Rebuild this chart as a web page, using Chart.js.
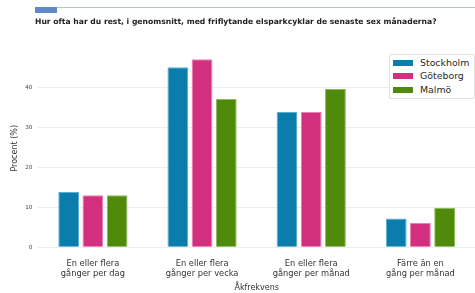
<!DOCTYPE html>
<html>
<head>
<meta charset="utf-8">
<script src="https://cdn.jsdelivr.net/npm/chart.js@4.4.0/dist/chart.umd.min.js"></script>
<style>
  html, body { margin: 0; padding: 0; background: #fff; }
  #wrap { position: relative; width: 475px; height: 293px; background: #fff; overflow: hidden; }
  #grafica { position: absolute; left: 0; top: 0; }
  .linje { position: absolute; left: 35px; top: 7px; width: 440px; height: 1px; background: #a9c2e6; }
  .flik { position: absolute; left: 35px; top: 7px; width: 22px; height: 6px; background: #5f89c9; }
  #titel { position: absolute; left: 35px; top: 17px; font: bold 7.65px/10px 'DejaVu Sans', sans-serif; color: #222; white-space: nowrap; }
  #ram { position: absolute; left: 389px; top: 54px; width: 86px; height: 45px; box-sizing: border-box;
         border: 1px solid #e2e2e2; border-radius: 2px; background: #fff; }
  .ruta { position: absolute; width: 19.5px; height: 6px; }
  .namn { position: absolute; font: 9.4px/12px 'DejaVu Sans', sans-serif; color: #2a2a2a; white-space: nowrap; }
</style>
</head>
<body>
<div id="wrap">
  <canvas id="grafica" width="475" height="293"></canvas>
  <div class="linje"></div>
  <div class="flik"></div>
  <div id="titel"></div>
  <div id="ram"></div>
</div>
<script>
// Datos
const kategorier = [
    ["En eller flera", "gånger per dag"],
    ["En eller flera", "gånger per vecka"],
    ["En eller flera", "gånger per månad"],
    ["Färre än en", "gång per månad"]
];
const stockholm = [13.8, 45.0, 33.8, 7.2];
const goteborg = [13.0, 47.0, 33.8, 6.1];
const malmo = [13.0, 37.1, 39.6, 9.9];
const stader = ["Stockholm", "Göteborg", "Malmö"];
const yStep = 10;
const yMax = 49.5;

const titel = "Hur ofta har du rest, i genomsnitt, med friflytande elsparkcyklar de senaste sex månaderna?";
const farger = ["#0b7dad", "#d2307f", "#4f8a0b"];
const kanter = ["#5aaed0", "#e77fb0", "#8cb85a"];

const FONT = "'DejaVu Sans', sans-serif";

const dataset = (namn, varden, i) => ({
    label: namn,
    data: varden,
    backgroundColor: farger[i],
    borderColor: kanter[i],
    borderWidth: 1,
    categoryPercentage: 0.665,
    barPercentage: 0.86
});

const chart = new Chart(document.getElementById("grafica"), {
    type: "bar",
    data: {
        labels: kategorier,
        datasets: [
            dataset(stader[0], stockholm, 0),
            dataset(stader[1], goteborg, 1),
            dataset(stader[2], malmo, 2)
        ]
    },
    options: {
        responsive: false,
        animation: false,
        devicePixelRatio: 1,
        layout: { padding: { top: 49.3, right: -3, left: 0, bottom: 0 } },
        plugins: {
            legend: { display: false },
            tooltip: { enabled: false }
        },
        scales: {
            x: {
                grid: { display: false, drawTicks: false },
                border: { display: false },
                ticks: {
                    color: "#333",
                    font: { family: FONT, size: 8.3, lineHeight: 1.2 },
                    padding: 12,
                    maxRotation: 0,
                    autoSkip: false
                },
                title: {
                    display: true,
                    text: "Åkfrekvens",
                    color: "#333",
                    font: { family: FONT, size: 8, lineHeight: 1.2 },
                    padding: 0
                },
                afterFit(scale) { scale.height = 45.7; }
            },
            y: {
                min: 0,
                max: yMax,
                grid: { color: "#ececec", drawTicks: false },
                border: { display: false },
                ticks: {
                    stepSize: yStep,
                    includeBounds: false,
                    color: "#444",
                    font: { family: FONT, size: 5.6 },
                    padding: 6,
                    autoSkip: false
                },
                title: {
                    display: true,
                    text: "Procent (%)",
                    color: "#333",
                    font: { family: FONT, size: 8, lineHeight: 1.2 },
                    padding: { top: 10 }
                },
                afterFit(scale) { scale.width = 38.3; }
            }
        }
    }
});

// Título arriba
document.getElementById("titel").textContent = titel;

// Leyenda en HTML, a partir de los datasets del gráfico
const wrap = document.getElementById("wrap");
chart.data.datasets.forEach((ds, i) => {
    const y = 62.7 + i * 13.5;
    const ruta = document.createElement("div");
    ruta.className = "ruta";
    ruta.style.left = "393px";
    ruta.style.top = (y - 3) + "px";
    ruta.style.background = ds.backgroundColor;
    wrap.appendChild(ruta);

    const namn = document.createElement("div");
    namn.className = "namn";
    namn.style.left = "420px";
    namn.style.top = (y - 6) + "px";
    namn.textContent = ds.label;
    wrap.appendChild(namn);
});

chart.update("none");
</script>
</body>
</html>
